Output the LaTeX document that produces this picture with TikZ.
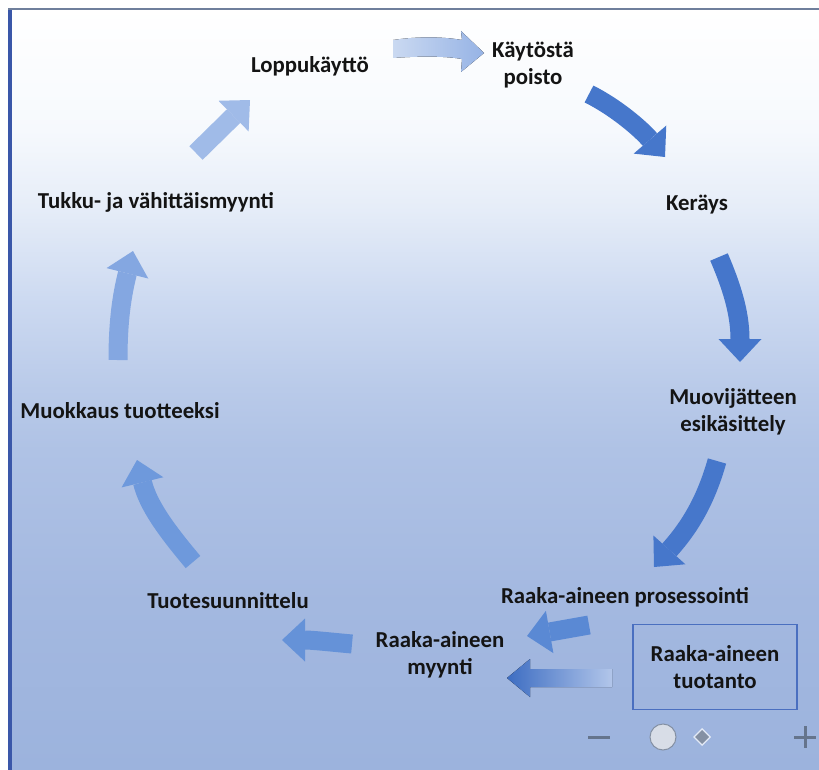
\documentclass[tikz,border=0pt]{standalone}
\usepackage{fontspec}
\setmainfont{Carlito}
\usetikzlibrary{arrows.meta}
\definecolor{bgA}{HTML}{9CB3DD}
\definecolor{bgB}{HTML}{A3B8E0}
\definecolor{bgC}{HTML}{AFC2E5}
\definecolor{bgD}{HTML}{B9CAE9}
\definecolor{bgE}{HTML}{CDDAF1}
\definecolor{bgF}{HTML}{E6EDF8}
\definecolor{bgG}{HTML}{F6F9FD}
\definecolor{leftbar}{HTML}{3A57A9}
\definecolor{topline}{HTML}{6F7F9C}
\definecolor{txt}{HTML}{141414}
\definecolor{boxc}{HTML}{4A6FC0}
\definecolor{aonel}{HTML}{CAD9F1}
\definecolor{aoner}{HTML}{96B3E5}
\definecolor{atwo}{HTML}{4677CB}
\definecolor{athree}{HTML}{4576CB}
\definecolor{afour}{HTML}{4677CB}
\definecolor{afive}{HTML}{5A89D4}
\definecolor{asixl}{HTML}{3D6DC2}
\definecolor{asixr}{HTML}{B2C6EA}
\definecolor{aseven}{HTML}{6592D8}
\definecolor{aeight}{HTML}{6E99DC}
\definecolor{anine}{HTML}{84A7E1}
\definecolor{aten}{HTML}{A0BBE8}
\definecolor{wdg}{HTML}{65748C}
\definecolor{circ}{HTML}{D8DDE7}
\pgfdeclareverticalshading{panelbg}{100bp}{color(0bp)=(bgA); color(25bp)=(bgA); color(36bp)=(bgB); color(46bp)=(bgC); color(50bp)=(bgD); color(56bp)=(bgE); color(62bp)=(bgF); color(67bp)=(bgG); color(75bp)=(white); color(100bp)=(white)}
\tikzset{
  lbl/.style={font=\fontsize{22.8bp}{27bp}\selectfont\bfseries, text=txt, align=center, inner sep=0pt},
  blk/.style={line width=19bp, -{Triangle[width=43bp,length=23bp,line width=0pt]}},
}
\begin{document}
\begin{tikzpicture}[x=1bp,y=-1bp]
\useasboundingbox (0,0) rectangle (819,770);
\fill[white] (0,0) rectangle (819,770);
\shade[shading=panelbg] (8,8) rectangle (819,770);
\fill[leftbar] (8,8) rectangle (12,770);
\draw[topline, line width=2bp] (8,9) -- (819,9);

% labels
\node[lbl] (lop) at (310,66) {Loppukäyttö};
\node[lbl] (kay) at (533,65) {Käytöstä\\poisto};
\node[lbl] (ker) at (697,205) {Keräys};
\node[lbl] (muo) at (733,412) {Muovijätteen\\esikäsittely};
\node[lbl] (pro) at (625,597) {Raaka-aineen prosessointi};
\node[lbl, draw=boxc, line width=1.3bp, minimum width=164bp, minimum height=85bp] (tuo) at (715,667) {Raaka-aineen\\tuotanto};
\node[lbl] (myy) at (440,655) {Raaka-aineen\\myynti};
\node[lbl] (tsu) at (228,601) {Tuotesuunnittelu};
\node[lbl] (mtu) at (120,411) {Muokkaus tuotteeksi};
\node[lbl] (tuk) at (156,202) {Tukku- ja vähittäismyynti};

% arrow end points
\coordinate (a2s) at (589,94);   \coordinate (a2e) at (665,157);
\coordinate (a3s) at (719,257);  \coordinate (a3e) at (740,362);
\coordinate (a4s) at (717,461);  \coordinate (a4e) at (654,567);
\coordinate (a5s) at (589,625);  \coordinate (a5e) at (527,636);
\coordinate (a7s) at (352,644);  \coordinate (a7e) at (282,640);
\coordinate (a8s) at (193,562);  \coordinate (a8e) at (137,460);
\coordinate (a9s) at (118,360);  \coordinate (a9e) at (133,251);
\coordinate (a10s) at (196,153); \coordinate (a10e) at (250,100);

% arrow 1 (Loppukaytto -> Kaytosta poisto), shaded
\fill[left color=aonel, right color=aoner]
  (393,40) .. controls (420,36) and (445,37) .. (462,40) -- (461,31) -- (484,53)
  -- (461,72) -- (462,59) .. controls (445,56) and (420,56) .. (393,58) -- cycle;

\draw[blk, atwo] (a2s) .. controls (615,107) and (640,128) .. (a2e);
\draw[blk, athree] (a3s) .. controls (731,285) and (740,312) .. (a3e);
\draw[blk, afour] (a4s) .. controls (706,500) and (690,527) .. (a4e);
\draw[blk, afive] (a5s) -- (a5e);

% arrow 6 (tuotanto -> myynti), shaded
\fill[left color=asixl, right color=asixr]
  (612,669) -- (530,669) -- (530,659) -- (507,678) -- (530,697) -- (530,687) -- (612,687) -- cycle;

\draw[blk, aseven] (a7s) .. controls (330,642) and (312,640) .. (a7e);
\draw[blk, aeight] (a8s) .. controls (166,530) and (148,505) .. (a8e);
\draw[blk, anine] (a9s) .. controls (118,320) and (122,295) .. (a9e);
\draw[blk, aten] (a10s) -- (a10e);

% zoom widgets
\draw[wdg, line width=3bp] (588,737) -- (610,737);
\draw[fill=circ, draw=wdg!80, line width=1bp] (663,737) circle (13);
\fill[white!60!bgD] (702,728) -- (711,737) -- (702,746) -- (693,737) -- cycle;
\fill[wdg!80] (702,730) -- (709,737) -- (702,744) -- (695,737) -- cycle;
\draw[wdg, line width=3bp] (794,737) -- (816,737) (805,726) -- (805,748);
\end{tikzpicture}
\end{document}
